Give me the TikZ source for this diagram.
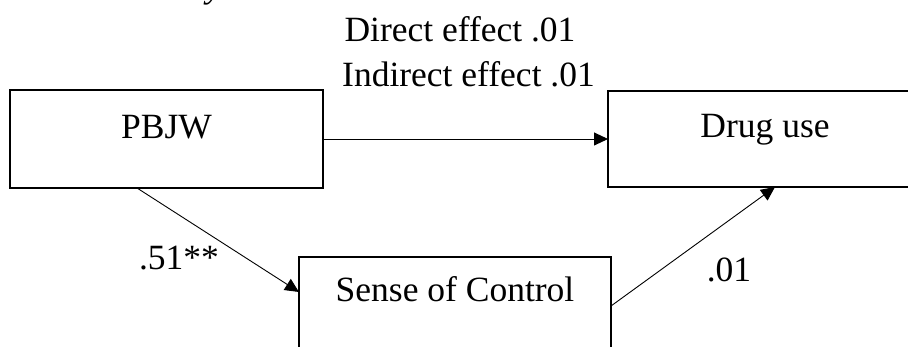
\documentclass[tikz,border=0pt]{standalone}
\usepackage{fontspec}
\setmainfont{Liberation Serif}
\usetikzlibrary{arrows.meta,calc}
\begin{document}
\begin{tikzpicture}[x=1pt,y=-1pt,
  box/.style={draw=black, line width=1.5pt, rectangle, minimum width=313pt,
    minimum height=98pt, inner sep=0pt, outer sep=0pt},
  txt/.style={font=\fontsize{35.5}{42}\selectfont, inner sep=0pt, anchor=base},
  link/.style={draw=black, line width=0.9pt, -{Triangle[length=14pt,width=13pt]}}
]
\useasboundingbox (0,0) rectangle (908,347);
\clip (0,0) rectangle (908,347);

% heading, mostly above the page edge
\node[txt, font=\fontsize{35.5}{42}\selectfont\itshape, anchor=base east] (heading) at (260,-2) {Quantitative Analysis};

% boxes
\node[box] (pbjw) at (166.5,139) {};
\node[box, minimum width=314pt, minimum height=96pt] (drug) at (765,139) {};
\node[box, minimum width=312pt] (soc) at (455,306) {};

% box texts
\node[txt] (pbjwt) at (166.5,139) {PBJW};
\node[txt] (drugt) at (765,138) {Drug use};
\node[txt] (soct) at (455,302) {Sense of Control};

% effect labels
\node[txt] (direct) at (460,42) {Direct effect .01};
\node[txt] (indirect) at (468.5,87) {Indirect effect .01};
\node[txt] (pathA) at (179,270) {.51**};
\node[txt] (pathB) at (729,282) {.01};

% paths
\draw[link] (pbjw.east) -- (drug.west);
\draw[link] ($(pbjw.south west)+(127,0)$) -- ($(soc.west)+(0,-14)$);
\draw[link] (soc.east) -- ($(drug.south)+(10,0)$);
\end{tikzpicture}
\end{document}
